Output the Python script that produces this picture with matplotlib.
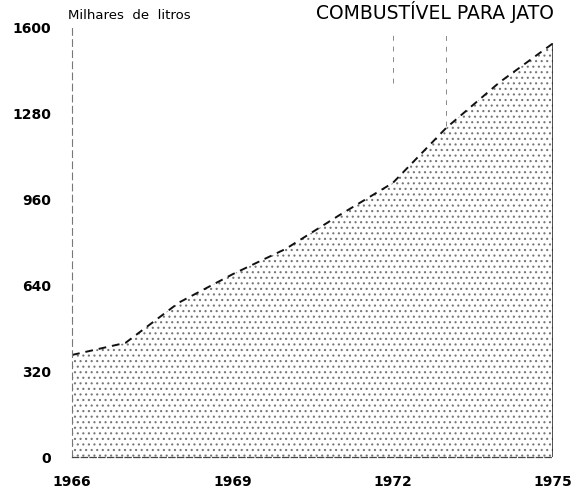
import matplotlib.pyplot as plt
import numpy as np

# Jet fuel consumption, thousands of litres per year
years = [1966, 1967, 1968, 1969, 1970, 1971, 1972, 1973, 1974, 1975]
fuel = [380, 425, 575, 680, 775, 900, 1020, 1225, 1395, 1540]

y_ticks = [0, 320, 640, 960, 1280, 1600]
x_ticks = [1966, 1969, 1972, 1975]

plt.rcParams['hatch.linewidth'] = 0.8
plt.rcParams['hatch.color'] = '#666666'

fig = plt.figure(figsize=(5.86, 4.92), dpi=100)
ax = fig.add_axes([0.123, 0.071, 0.821, 0.874])

# stippled area under the curve
ax.fill_between(years, fuel, 0, facecolor='white', edgecolor='#777777',
				hatch='...', linewidth=0)
ax.plot(years, fuel, color='#111111', linewidth=1.4, linestyle=(0, (4, 3)))
ax.vlines(years[-1], 0, fuel[-1], color='#222222', linewidth=1.1)

# faint guide lines near the top
ax.vlines([1972, 1973], [1390, 1230], 1590, color='#888888',
		  linewidth=0.7, linestyles=(0, (5, 6)))

ax.set_xlim(1966, 1975)
ax.set_ylim(0, 1600)
ax.set_xticks(x_ticks)
ax.set_yticks(y_ticks)
ax.tick_params(length=0, labelsize=10)
ax.tick_params(axis='x', pad=13)
ax.tick_params(axis='y', pad=15)
for lbl in ax.get_xticklabels() + ax.get_yticklabels():
	lbl.set_fontweight('bold')

for side in ['top', 'right']:
	ax.spines[side].set_visible(False)
ax.spines['left'].set_linestyle((0, (6, 4)))
ax.spines['left'].set_linewidth(0.8)
ax.spines['left'].set_color('#777777')
ax.spines['bottom'].set_linestyle((0, (5, 2)))
ax.spines['bottom'].set_linewidth(0.9)
ax.spines['bottom'].set_color('#444444')

fig.text(0.116, 0.956, 'Milhares  de  litros', fontsize=9.5, ha='left', va='bottom')
fig.text(0.945, 0.953, 'COMBUSTÍVEL PARA JATO', fontsize=13.5, ha='right', va='bottom')

plt.savefig('out.png', dpi=100)
